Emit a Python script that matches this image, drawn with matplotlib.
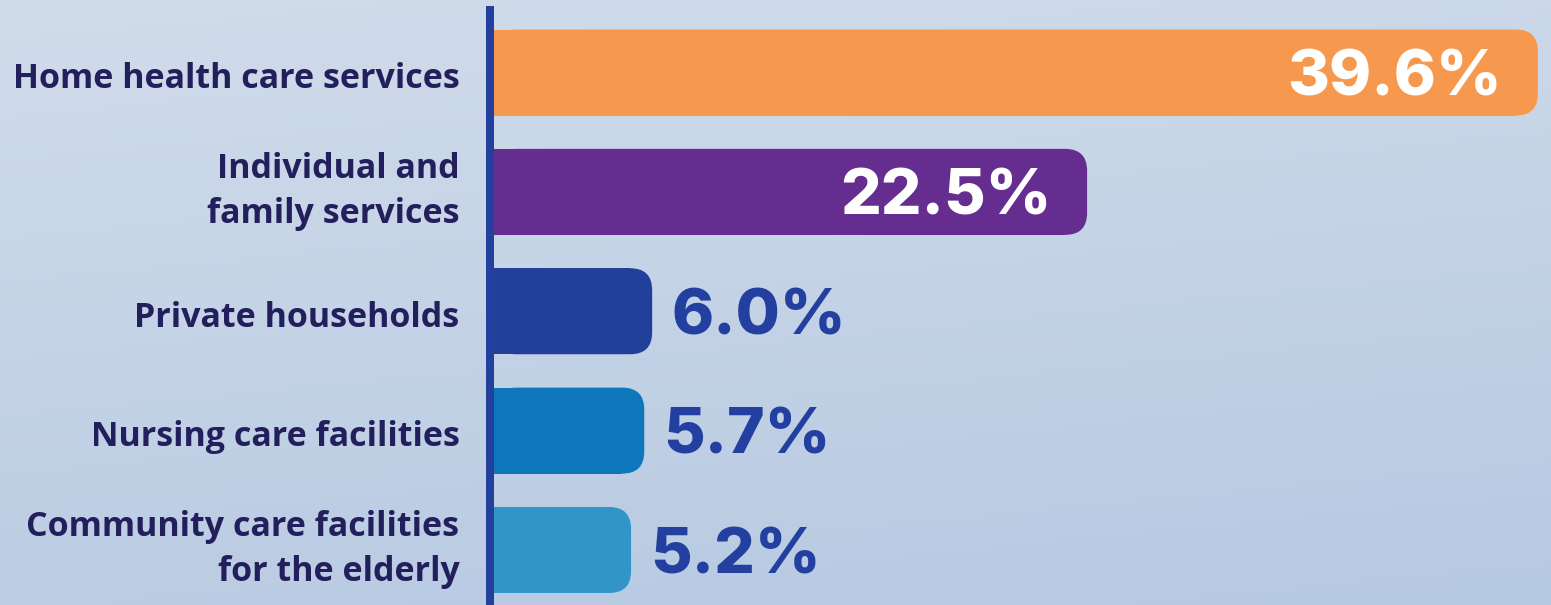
import numpy as np
import matplotlib.pyplot as plt
import matplotlib.transforms as mtransforms
from matplotlib.patches import FancyBboxPatch

categories = ["Home health care services", "Individual and\nfamily services",
              "Private households", "Nursing care facilities",
              "Community care facilities\nfor the elderly"]
values = [39.6, 22.5, 6.0, 5.7, 5.2]
value_labels = ["39.6%", "22.5%", "6.0%", "5.7%", "5.2%"]
colors = ["#f7984f", "#652d90", "#223f99", "#0e76bb", "#3295c7"]
inside = [True, True, False, False, False]

W, H, DPI = 1551, 605, 100
fig = plt.figure(figsize=(W / DPI, H / DPI), dpi=DPI)

# background gradient
bg = fig.add_axes([0, 0, 1, 1], zorder=-10)
yy, xx = np.mgrid[0:1:200j, 0:1:200j]
g = 0.8 * yy + 0.2 * xx
top = np.array([0xd1, 0xdc, 0xea]) / 255
bot = np.array([0xb6, 0xc9, 0xe2]) / 255
img = top[None, None, :] * (1 - g[..., None]) + bot[None, None, :] * g[..., None]
bg.imshow(img, aspect="auto", extent=[0, 1, 1, 0])
bg.axis("off")

# main axes: x0 at 494px, 26.36 px per unit
x0_px = 494
px_per_unit = 26.36
ax = fig.add_axes([x0_px / W, 0, (W - x0_px) / W, 1])
ax.patch.set_alpha(0)
ax.set_xlim(0, (W - x0_px) / px_per_unit)
upp = 4 / 477.5  # y units per px
ax.set_ylim(4 + 55 * upp, -72.5 * upp)

for s in ["top", "right", "bottom"]:
    ax.spines[s].set_visible(False)
ax.spines["left"].set_color("#22409c")
ax.spines["left"].set_linewidth(5.76)
ax.spines["left"].set_position(("outward", 2.88))
ax.spines["left"].set_bounds(4 + 55 * upp, -72.5 * upp + 10 * upp)

ypos = np.arange(len(values))
bar_h = 86 * upp
r_px = 22
r = r_px / px_per_unit
aspect = upp / (1 / px_per_unit)

for y, v, c in zip(ypos, values, colors):
    ax.barh(y, v - r, left=0, height=bar_h, color=c, linewidth=0)
    p = FancyBboxPatch((0, y - bar_h / 2), v, bar_h,
                       boxstyle=f"round,pad=0,rounding_size={r}",
                       mutation_aspect=aspect, facecolor=c, linewidth=0)
    ax.add_patch(p)

for y, v, lab, ins in zip(ypos, values, value_labels, inside):
    if ins:
        ax.text(v - 36 / px_per_unit, y, lab, ha="right", va="center_baseline",
                color="white", fontsize=46, fontweight="heavy", family="Inter")
    else:
        ax.text(v + 19 / px_per_unit, y, lab, ha="left", va="center_baseline",
                color="#2340a0", fontsize=46, fontweight="heavy", family="Inter")

ax.set_xticks([])
ax.set_yticks(ypos)
ax.set_yticklabels(categories, fontsize=24.5, fontweight="bold",
                   family="Open Sans", color="#231f5c", linespacing=1.42)
ax.tick_params(axis="y", length=0, pad=22)
# nudge two-line labels up a little
up = mtransforms.ScaledTranslation(0, 7 / 72, fig.dpi_scale_trans)
down = mtransforms.ScaledTranslation(0, -2 / 72, fig.dpi_scale_trans)
for t in ax.get_yticklabels():
    t.set_transform(t.get_transform() + (up if "\n" in t.get_text() else down))

fig.savefig("out.png", dpi=DPI)
